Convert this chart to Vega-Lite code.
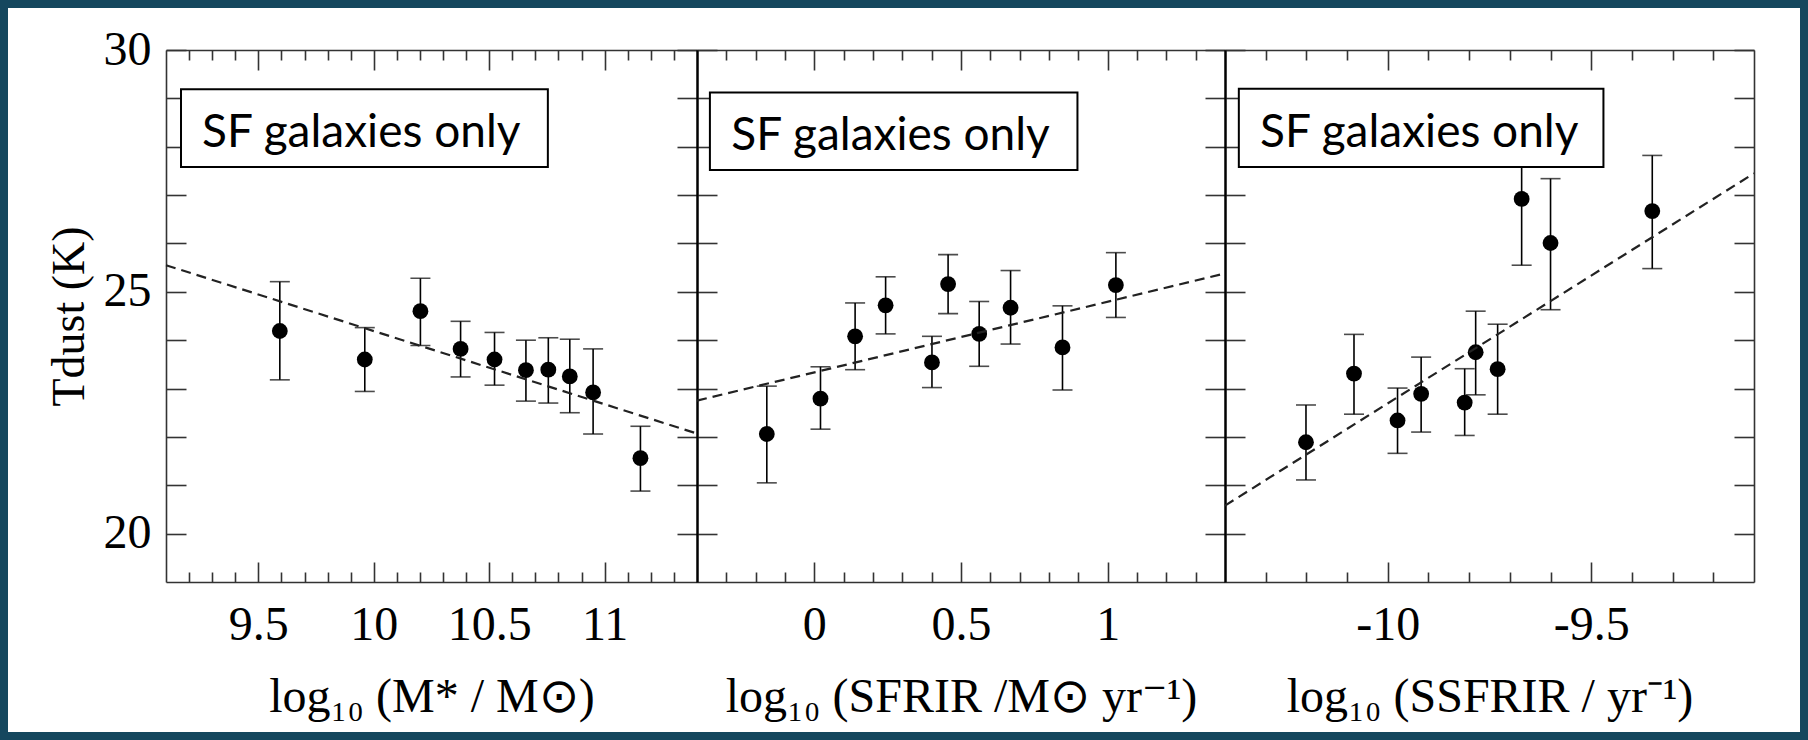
{
  "$schema": "https://vega.github.io/schema/vega-lite/v6.json",
  "background": "white",
  "padding": 0,
  "spacing": 0,
  "bounds": "flush",
  "datasets": {
    "mass": [
      {"x": 9.593, "t": 24.19, "lo": 23.18, "hi": 25.21},
      {"x": 9.961, "t": 23.60, "lo": 22.94, "hi": 24.26},
      {"x": 10.202, "t": 24.60, "lo": 23.89, "hi": 25.28},
      {"x": 10.376, "t": 23.82, "lo": 23.24, "hi": 24.39},
      {"x": 10.523, "t": 23.60, "lo": 23.07, "hi": 24.16},
      {"x": 10.659, "t": 23.38, "lo": 22.74, "hi": 24.00},
      {"x": 10.756, "t": 23.39, "lo": 22.70, "hi": 24.05},
      {"x": 10.849, "t": 23.25, "lo": 22.50, "hi": 24.02},
      {"x": 10.950, "t": 22.92, "lo": 22.06, "hi": 23.82},
      {"x": 11.155, "t": 21.56, "lo": 20.88, "hi": 22.22}
    ],
    "mass_fit": [{"x": 9.1, "t": 25.55}, {"x": 11.4, "t": 22.07}],
    "sfr": [
      {"x": -0.162, "t": 22.06, "lo": 21.05, "hi": 23.05},
      {"x": 0.021, "t": 22.79, "lo": 22.16, "hi": 23.45},
      {"x": 0.139, "t": 24.08, "lo": 23.39, "hi": 24.77},
      {"x": 0.243, "t": 24.72, "lo": 24.13, "hi": 25.31},
      {"x": 0.401, "t": 23.54, "lo": 23.02, "hi": 24.08},
      {"x": 0.456, "t": 25.16, "lo": 24.55, "hi": 25.77},
      {"x": 0.562, "t": 24.13, "lo": 23.46, "hi": 24.80},
      {"x": 0.669, "t": 24.67, "lo": 23.92, "hi": 25.44},
      {"x": 0.846, "t": 23.85, "lo": 22.97, "hi": 24.71},
      {"x": 1.028, "t": 25.14, "lo": 24.47, "hi": 25.81}
    ],
    "sfr_fit": [{"x": -0.4, "t": 22.75}, {"x": 1.4, "t": 25.38}],
    "ssfr": [
      {"x": -10.201, "t": 21.89, "lo": 21.11, "hi": 22.66},
      {"x": -10.083, "t": 23.31, "lo": 22.47, "hi": 24.12},
      {"x": -9.976, "t": 22.34, "lo": 21.66, "hi": 23.01},
      {"x": -9.918, "t": 22.89, "lo": 22.10, "hi": 23.65},
      {"x": -9.811, "t": 22.71, "lo": 22.03, "hi": 23.41},
      {"x": -9.784, "t": 23.75, "lo": 22.87, "hi": 24.60},
      {"x": -9.730, "t": 23.40, "lo": 22.47, "hi": 24.33},
      {"x": -9.671, "t": 26.92, "lo": 25.55, "hi": 28.29},
      {"x": -9.600, "t": 26.01, "lo": 24.63, "hi": 27.34},
      {"x": -9.350, "t": 26.67, "lo": 25.48, "hi": 27.82}
    ],
    "ssfr_fit": [{"x": -10.4, "t": 20.58}, {"x": -9.1, "t": 27.45}]
  },
  "hconcat": [
    {
      "width": 531, "height": 532,
      "resolve": {"axis": {"x": "independent", "y": "independent"}},
      "layer": [
        {
          "data": {"name": "mass"},
          "mark": {"type": "errorbar", "ticks": true, "size": 20, "thickness": 1.6, "color": "black"},
          "encoding": {
            "x": {"field": "x", "type": "quantitative", "scale": {"domain": [9.1, 11.4], "nice": false, "zero": false}, "axis": null},
            "y": {"field": "lo", "type": "quantitative", "scale": {"domain": [19, 30], "nice": false, "zero": false}, "axis": null},
            "y2": {"field": "hi"}
          }
        },
        {
          "data": {"name": "mass"},
          "mark": {"type": "point", "filled": true, "size": 250, "color": "black", "opacity": 1},
          "encoding": {
            "x": {"field": "x", "type": "quantitative", "axis": {
              "orient": "bottom", "title": "log₁₀ (M* / M⊙)",
              "values": [9.2, 9.3, 9.4, 9.5, 9.6, 9.7, 9.8, 9.9, 10, 10.1, 10.2, 10.3, 10.4, 10.5, 10.6, 10.7, 10.8, 10.9, 11, 11.1, 11.2, 11.3],
              "labelExpr": "abs(datum.value*2-round(datum.value*2))<0.000001 ? toString(datum.value) : ''",
              "tickSize": {"condition": {"test": "abs(datum.value*2-round(datum.value*2))<0.000001", "value": -20}, "value": -10},
              "labelPadding": 39, "titlePadding": 14}},
            "y": {"field": "t", "type": "quantitative", "axis": {
              "orient": "left", "title": "Tdust (K)", "titleFontSize": 46,
              "values": [20, 21, 22, 23, 24, 25, 26, 27, 28, 29, 30],
              "labelExpr": "datum.value % 5 == 0 ? toString(datum.value) : ''",
              "tickSize": -20, "labelPadding": 35, "titlePadding": 10}}
          }
        },
        {
          "data": {"name": "mass_fit"},
          "mark": {"type": "line", "strokeDash": [10, 6], "color": "#222222", "strokeWidth": 2.2},
          "encoding": {
            "x": {"field": "x", "type": "quantitative", "axis": {
              "orient": "top", "title": null, "labels": false,
              "values": [9.2, 9.3, 9.4, 9.5, 9.6, 9.7, 9.8, 9.9, 10, 10.1, 10.2, 10.3, 10.4, 10.5, 10.6, 10.7, 10.8, 10.9, 11, 11.1, 11.2, 11.3],
              "tickSize": {"condition": {"test": "abs(datum.value*2-round(datum.value*2))<0.000001", "value": -20}, "value": -10}}},
            "y": {"field": "t", "type": "quantitative", "axis": {
              "orient": "right", "title": null, "labels": false, "domainColor": "black", "domainWidth": 2,
              "values": [20, 21, 22, 23, 24, 25, 26, 27, 28, 29, 30], "tickSize": -20}}
          }
        },
        {
          "data": {"values": [{}]},
          "mark": {"type": "rect", "stroke": "black", "strokeWidth": 2},
          "encoding": {
            "x": {"datum": 9.165, "type": "quantitative", "axis": null},
            "x2": {"datum": 10.754},
            "y": {"datum": 29.19, "type": "quantitative", "axis": null},
            "y2": {"datum": 27.58},
            "color": {"datum": 1, "type": "quantitative", "scale": {"domain": [0, 1], "range": ["white", "white"]},
              "legend": {"orient": "none", "legendX": -162, "legendY": -46, "direction": "horizontal",
                "gradientLength": 1800, "gradientThickness": 732, "gradientOpacity": 0, "gradientStrokeWidth": 0,
                "values": [0], "labelExpr": "''", "labelFontSize": 1, "labelOffset": -20, "labelOpacity": 0,
                "title": null, "padding": 0, "strokeColor": "#15475e"}}
          }
        },
        {
          "data": {"values": [{}]},
          "mark": {"type": "text", "text": "SF galaxies only", "font": "Lato", "fontSize": 46, "align": "left", "baseline": "alphabetic", "color": "black"},
          "encoding": {
            "x": {"datum": 9.256, "type": "quantitative", "axis": null},
            "y": {"datum": 27.99, "type": "quantitative", "axis": null}
          }
        }
      ]
    },
    {
      "width": 528, "height": 532,
      "resolve": {"axis": {"x": "independent", "y": "independent"}},
      "layer": [
        {
          "data": {"name": "sfr"},
          "mark": {"type": "errorbar", "ticks": true, "size": 20, "thickness": 1.6, "color": "black"},
          "encoding": {
            "x": {"field": "x", "type": "quantitative", "scale": {"domain": [-0.4, 1.4], "nice": false, "zero": false}, "axis": null},
            "y": {"field": "lo", "type": "quantitative", "scale": {"domain": [19, 30], "nice": false, "zero": false}, "axis": null},
            "y2": {"field": "hi"}
          }
        },
        {
          "data": {"name": "sfr"},
          "mark": {"type": "point", "filled": true, "size": 250, "color": "black", "opacity": 1},
          "encoding": {
            "x": {"field": "x", "type": "quantitative", "axis": {
              "orient": "bottom", "title": "log₁₀ (SFRIR /M⊙ yr⁻¹)",
              "values": [-0.3, -0.2, -0.1, 0, 0.1, 0.2, 0.3, 0.4, 0.5, 0.6, 0.7, 0.8, 0.9, 1, 1.1, 1.2, 1.3],
              "labelExpr": "abs(datum.value*2-round(datum.value*2))<0.000001 ? toString(datum.value) : ''",
              "tickSize": {"condition": {"test": "abs(datum.value*2-round(datum.value*2))<0.000001", "value": -20}, "value": -10},
              "labelPadding": 39, "titlePadding": 14}},
            "y": {"field": "t", "type": "quantitative", "axis": {
              "orient": "left", "title": null, "labels": false, "domainColor": "black", "domainWidth": 2,
              "values": [20, 21, 22, 23, 24, 25, 26, 27, 28, 29, 30], "tickSize": -20}}
          }
        },
        {
          "data": {"name": "sfr_fit"},
          "mark": {"type": "line", "strokeDash": [10, 6], "color": "#222222", "strokeWidth": 2.2},
          "encoding": {
            "x": {"field": "x", "type": "quantitative", "axis": {
              "orient": "top", "title": null, "labels": false,
              "values": [-0.3, -0.2, -0.1, 0, 0.1, 0.2, 0.3, 0.4, 0.5, 0.6, 0.7, 0.8, 0.9, 1, 1.1, 1.2, 1.3],
              "tickSize": {"condition": {"test": "abs(datum.value*2-round(datum.value*2))<0.000001", "value": -20}, "value": -10}}},
            "y": {"field": "t", "type": "quantitative", "axis": {
              "orient": "right", "title": null, "labels": false, "domainColor": "black", "domainWidth": 2,
              "values": [20, 21, 22, 23, 24, 25, 26, 27, 28, 29, 30], "tickSize": -20}}
          }
        },
        {
          "data": {"values": [{}]},
          "mark": {"type": "rect", "fill": "white", "stroke": "black", "strokeWidth": 2},
          "encoding": {
            "x": {"datum": -0.356, "type": "quantitative", "axis": null},
            "x2": {"datum": 0.897},
            "y": {"datum": 29.12, "type": "quantitative", "axis": null},
            "y2": {"datum": 27.52}
          }
        },
        {
          "data": {"values": [{}]},
          "mark": {"type": "text", "text": "SF galaxies only", "font": "Lato", "fontSize": 46, "align": "left", "baseline": "alphabetic", "color": "black"},
          "encoding": {
            "x": {"datum": -0.283, "type": "quantitative", "axis": null},
            "y": {"datum": 27.93, "type": "quantitative", "axis": null}
          }
        }
      ]
    },
    {
      "width": 529, "height": 532,
      "resolve": {"axis": {"x": "independent", "y": "independent"}},
      "layer": [
        {
          "data": {"name": "ssfr"},
          "mark": {"type": "errorbar", "ticks": true, "size": 20, "thickness": 1.6, "color": "black"},
          "encoding": {
            "x": {"field": "x", "type": "quantitative", "scale": {"domain": [-10.4, -9.1], "nice": false, "zero": false}, "axis": null},
            "y": {"field": "lo", "type": "quantitative", "scale": {"domain": [19, 30], "nice": false, "zero": false}, "axis": null},
            "y2": {"field": "hi"}
          }
        },
        {
          "data": {"name": "ssfr"},
          "mark": {"type": "point", "filled": true, "size": 250, "color": "black", "opacity": 1},
          "encoding": {
            "x": {"field": "x", "type": "quantitative", "axis": {
              "orient": "bottom", "title": "log₁₀ (SSFRIR / yr⁻¹)",
              "values": [-10.3, -10.2, -10.1, -10, -9.9, -9.8, -9.7, -9.6, -9.5, -9.4, -9.3, -9.2],
              "labelExpr": "abs(datum.value*2-round(datum.value*2))<0.000001 ? toString(datum.value) : ''",
              "tickSize": {"condition": {"test": "abs(datum.value*2-round(datum.value*2))<0.000001", "value": -20}, "value": -10},
              "labelPadding": 39, "titlePadding": 14}},
            "y": {"field": "t", "type": "quantitative", "axis": {
              "orient": "left", "title": null, "labels": false, "domainColor": "black", "domainWidth": 2,
              "values": [20, 21, 22, 23, 24, 25, 26, 27, 28, 29, 30], "tickSize": -20}}
          }
        },
        {
          "data": {"name": "ssfr_fit"},
          "mark": {"type": "line", "strokeDash": [10, 6], "color": "#222222", "strokeWidth": 2.2},
          "encoding": {
            "x": {"field": "x", "type": "quantitative", "axis": {
              "orient": "top", "title": null, "labels": false,
              "values": [-10.3, -10.2, -10.1, -10, -9.9, -9.8, -9.7, -9.6, -9.5, -9.4, -9.3, -9.2],
              "tickSize": {"condition": {"test": "abs(datum.value*2-round(datum.value*2))<0.000001", "value": -20}, "value": -10}}},
            "y": {"field": "t", "type": "quantitative", "axis": {
              "orient": "right", "title": null, "labels": false,
              "values": [20, 21, 22, 23, 24, 25, 26, 27, 28, 29, 30], "tickSize": -20}}
          }
        },
        {
          "data": {"values": [{}]},
          "mark": {"type": "rect", "fill": "white", "stroke": "black", "strokeWidth": 2},
          "encoding": {
            "x": {"datum": -10.366, "type": "quantitative", "axis": null},
            "x2": {"datum": -9.47},
            "y": {"datum": 29.2, "type": "quantitative", "axis": null},
            "y2": {"datum": 27.58}
          }
        },
        {
          "data": {"values": [{}]},
          "mark": {"type": "text", "text": "SF galaxies only", "font": "Lato", "fontSize": 46, "align": "left", "baseline": "alphabetic", "color": "black"},
          "encoding": {
            "x": {"datum": -10.314, "type": "quantitative", "axis": null},
            "y": {"datum": 27.99, "type": "quantitative", "axis": null}
          }
        }
      ]
    }
  ],
  "config": {
    "view": {"stroke": null},
    "legend": {"strokeWidth": 8},
    "axis": {
      "domainColor": "#333333", "domainWidth": 1.6,
      "tickColor": "#333333", "tickWidth": 1.6,
      "labelFont": "Liberation Serif", "labelFontSize": 48, "labelColor": "black",
      "titleFont": "Liberation Serif", "titleFontSize": 48, "titleFontWeight": "normal", "titleColor": "black",
      "grid": false, "labelFlush": false, "labelOverlap": false, "labelBound": false
    }
  }
}
